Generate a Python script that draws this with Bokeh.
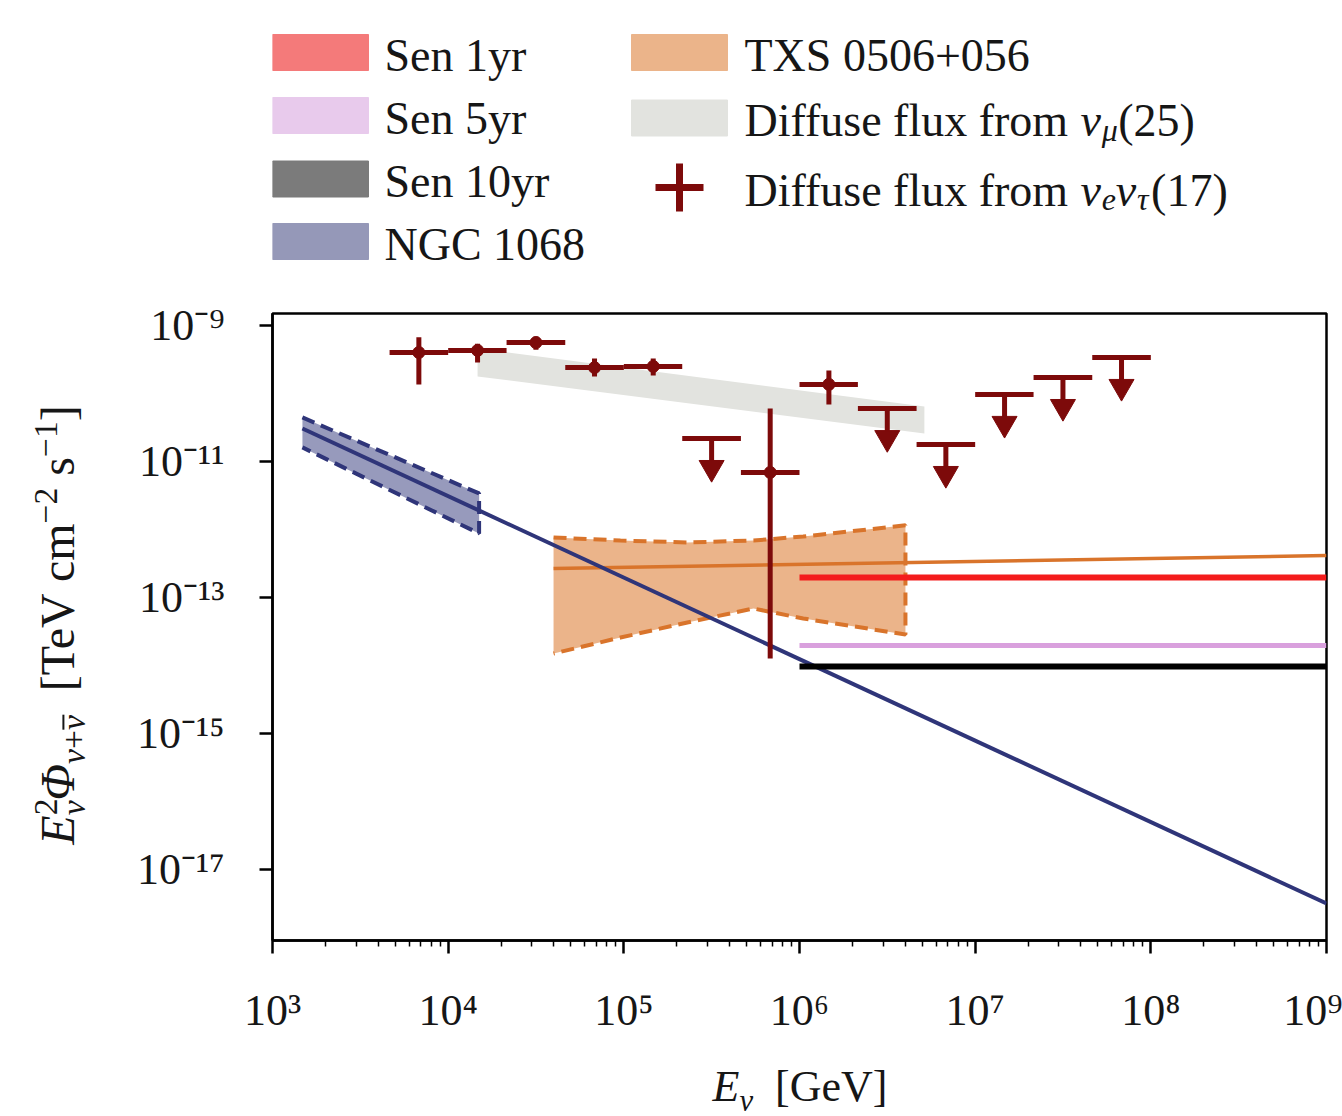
import math
from bokeh.plotting import figure
from bokeh.models import Range1d, FixedTicker, CustomJSTickFormatter, Div
from bokeh.layouts import column, row
from bokeh.embed import file_html
from bokeh.resources import INLINE
from bokeh.core.properties import value

# ---------------- data (GeV, TeV cm^-2 s^-1) ----------------
# diffuse flux from nu_e nu_tau (17): measured bins
cas_lo = [4.64e3, 1.00e4, 2.15e4, 4.64e4, 1.00e5, 4.64e5, 1.00e6]
cas_hi = [1.00e4, 2.15e4, 4.64e4, 1.00e5, 2.15e5, 1.00e6, 2.15e6]
cas_e = [6.81e3, 1.47e4, 3.16e4, 6.81e4, 1.47e5, 6.81e5, 1.47e6]
cas_f = [4.0e-10, 4.3e-10, 5.6e-10, 2.4e-10, 2.5e-10, 6.9e-12, 1.36e-10]
cas_flo = [1.36e-10, 2.86e-10, 4.4e-10, 1.78e-10, 1.84e-10, 1.27e-14, 6.9e-11]
cas_fhi = [6.7e-10, 5.4e-10, 6.9e-10, 3.27e-10, 3.27e-10, 6.0e-11, 2.18e-10]
# upper limits
ul_lo = [2.15e5, 2.15e6, 4.64e6, 1.00e7, 2.15e7, 4.64e7]
ul_hi = [4.64e5, 4.64e6, 1.00e7, 2.15e7, 4.64e7, 1.00e8]
ul_e = [3.16e5, 3.16e6, 6.81e6, 1.47e7, 3.16e7, 6.81e7]
ul_f = [2.18e-11, 6.0e-11, 1.78e-11, 9.7e-11, 1.72e-10, 3.39e-10]

# diffuse flux from nu_mu (25) band
numu_e = [1.47e4, 5.14e6]
numu_hi = [4.59e-10, 6.44e-11]
numu_lo = [1.78e-10, 2.58e-11]

# TXS 0506+056
txs_e = [3.98e4, 9.57e4, 2.30e5, 5.47e5, 1.05e6, 4.01e6]
txs_hi = [7.62e-13, 6.89e-13, 6.44e-13, 6.89e-13, 7.89e-13, 1.15e-12]
txs_lo = [1.50e-14, 2.58e-14, 4.29e-14, 6.89e-14, 4.91e-14, 2.86e-14]
txs_fit_e = [3.98e4, 1.0e9]
txs_fit_f = [2.67e-13, 4.15e-13]

# NGC 1068
ngc_e = [1.48e3, 1.5e4]
ngc_hi = [4.44e-11, 3.39e-12]
ngc_lo = [1.61e-11, 8.73e-13]
ngc_fit_e = [1.48e3, 1.0e9]
ngc_fit_f = [3.05e-11, 3.16e-18]

# sensitivities
sen_e = [1.0e6, 1.0e9]
sen1_f = [1.97e-13, 1.97e-13]
sen5_f = [1.97e-14, 1.97e-14]
sen10_f = [9.7e-15, 9.7e-15]

x_major = [1e3, 1e4, 1e5, 1e6, 1e7, 1e8, 1e9]
y_major = [1e-9, 1e-11, 1e-13, 1e-15, 1e-17]

# ---------------- style ----------------
FONT = "Liberation Serif"
TXT = "#161616"
RED = "#7d0a0a"
NAVY = "#2f3579"
ORANGE = "#d9742b"
TXS_FILL = "#ebb48a"
GREY = "#e2e3df"
SEN1 = "#f41c1c"
SEN5 = "#d9a0dd"
FS = 44      # tick labels / x title
LFS = 46     # legend
LSS = 32     # legend subscripts

EM = {' ': 250, '(': 333, ')': 333, '+': 564, '\u2212': 564, '[': 333, ']': 333,
      'C': 667, 'D': 722, 'E': 611, 'G': 722, 'N': 722, 'S': 556, 'T': 611, 'V': 722, 'X': 722,
      'a': 444, 'c': 444, 'e': 444, 'f': 333, 'i': 278, 'l': 278, 'm': 778, 'n': 500, 'o': 500,
      'r': 333, 's': 389, 'u': 500, 'x': 500, 'y': 500,
      '\u03bd': 460, '\u03bc': 520, '\u03c4': 440, '\u03a6': 760}


def tw(s, size):
    return sum(EM.get(c, 500) for c in s) * size / 1000.0


def adv(piece):
    t, sz, sh, st, a = piece
    return tw(t, sz) if a is None else a


# page geometry (px)
YDIV_W = 100
TOTAL_W = 1342
LEG_H = 286
MAIN_H = 764
XDIV_H = 64
COL_W = TOTAL_W - YDIV_W
BORDER_L = 272 - YDIV_W
BORDER_R = 16

# ---------------- main figure ----------------
p = figure(width=COL_W, height=MAIN_H, x_axis_type="log", y_axis_type="log",
           x_range=Range1d(1e3, 1e9), y_range=Range1d(9.04e-19, 1.5e-9),
           output_backend="svg", toolbar_location=None,
           min_border_left=BORDER_L, min_border_right=BORDER_R,
           min_border_top=27, min_border_bottom=110)
p.grid.visible = False
p.outline_line_color = "black"
p.outline_line_width = 2.5
p.background_fill_color = "white"
p.border_fill_color = "white"

fmt = CustomJSTickFormatter(code="""
const sup = {"-":"\u207b","0":"\u2070","1":"\u00b9","2":"\u00b2","3":"\u00b3","4":"\u2074",
             "5":"\u2075","6":"\u2076","7":"\u2077","8":"\u2078","9":"\u2079"};
const e = Math.round(Math.log10(tick));
return "10" + String(e).split("").map(c => sup[c]).join("");
""")

x_minor = [k * 10 ** n for n in range(3, 9) for k in range(2, 10)]
p.xaxis.ticker = FixedTicker(ticks=x_major, minor_ticks=x_minor)
p.yaxis.ticker = FixedTicker(ticks=y_major, minor_ticks=[])
for ax in (p.xaxis[0], p.yaxis[0]):
    ax.formatter = fmt
    ax.axis_line_color = "black"
    ax.axis_line_width = 2.5
    ax.major_tick_line_color = "black"
    ax.major_tick_line_width = 2.5
    ax.minor_tick_line_color = "black"
    ax.minor_tick_line_width = 1.5
    ax.major_tick_in = 0
    ax.major_tick_out = 13
    ax.minor_tick_in = 0
    ax.minor_tick_out = 6
    ax.major_label_text_font = FONT
    ax.major_label_text_font_size = f"{FS}px"
    ax.major_label_text_color = TXT
p.xaxis.major_label_standoff = 32
p.yaxis.major_label_standoff = 35
p.yaxis.minor_tick_line_color = None

# diffuse nu_mu band
p.varea(x=numu_e, y1=numu_lo, y2=numu_hi, fill_color=GREY)

# TXS band
p.varea(x=txs_e, y1=txs_lo, y2=txs_hi, fill_color=TXS_FILL)
# NGC band
p.varea(x=ngc_e, y1=ngc_lo, y2=ngc_hi, fill_color=NAVY, fill_alpha=0.5)

# TXS outline + fit
p.line(x=txs_e + txs_e[::-1], y=txs_hi + txs_lo[::-1], line_color=ORANGE,
       line_width=4, line_dash="13 7")
p.line(x=txs_fit_e, y=txs_fit_f, line_color=ORANGE, line_width=3.5)

# NGC outline + fit
p.line(x=ngc_e + ngc_e[::-1], y=ngc_hi + ngc_lo[::-1], line_color=NAVY,
       line_width=4, line_dash="13 7")
p.line(x=ngc_fit_e, y=ngc_fit_f, line_color=NAVY, line_width=4)

# sensitivities
p.line(x=sen_e, y=sen10_f, line_color="black", line_width=6)
p.line(x=sen_e, y=sen5_f, line_color=SEN5, line_width=5)
p.line(x=sen_e, y=sen1_f, line_color=SEN1, line_width=6)

# diffuse nu_e nu_tau data
p.segment(x0=cas_lo, y0=cas_f, x1=cas_hi, y1=cas_f, line_color=RED, line_width=5)
p.segment(x0=cas_e, y0=cas_flo, x1=cas_e, y1=cas_fhi, line_color=RED, line_width=5)
p.scatter(x=cas_e, y=cas_f, size=12, marker="circle", fill_color=RED, line_color=RED)

# upper limits
ARROW_STEM = 10 ** -0.36
ARROW_HEAD = 10 ** -0.43
ul_stem = [f * ARROW_STEM for f in ul_f]
ul_head = [f * ARROW_HEAD for f in ul_f]
p.segment(x0=ul_lo, y0=ul_f, x1=ul_hi, y1=ul_f, line_color=RED, line_width=5)
p.segment(x0=ul_e, y0=ul_f, x1=ul_e, y1=ul_stem, line_color=RED, line_width=5)
p.scatter(x=ul_e, y=ul_head, size=25, marker="inverted_triangle",
          fill_color=RED, line_color=RED)

# ---------------- axis titles (HTML text) ----------------
S = "font-size:0.7em;"
YCSS = (f"font-family:'{FONT}';font-size:48px;color:{TXT};"
        "white-space:nowrap;line-height:1;")
XCSS = (f"font-family:'{FONT}';font-size:{FS}px;color:{TXT};"
        "white-space:nowrap;line-height:1;")
NUBAR = ("<i style='display:inline-block;border-top:2px solid #161616;"
         "line-height:0.55;padding-top:1px;'>\u03bd</i>")
TOTAL_H = LEG_H + MAIN_H + XDIV_H
ylab_html = (
    f"<div style='position:relative;width:{YDIV_W}px;height:{TOTAL_H}px;'>"
    f"<div style=\"position:absolute;left:60px;top:625px;"
    f"transform:translate(-50%,-50%) rotate(-90deg);{YCSS}\">"
    f"<i>E</i><sup style='{S}'>2</sup><sub style='{S}margin-left:-0.5em'><i>\u03bd</i></sub>"
    f"<i>\u03a6</i><sub style='{S}'><i>\u03bd</i>+{NUBAR}</sub>"
    f"&nbsp;&nbsp;[TeV cm<sup style='{S}'>\u22122</sup> s<sup style='{S}'>\u22121</sup>]"
    "</div></div>")
ydiv = Div(text=ylab_html, width=YDIV_W, height=TOTAL_H, margin=0)

xlab_html = (
    f"<div style='position:relative;width:{COL_W}px;height:{XDIV_H}px;'>"
    f"<div style=\"position:absolute;left:{800 - YDIV_W}px;top:15px;"
    f"transform:translateX(-50%);{XCSS}\">"
    f"<i>E</i><sub style='{S}'><i>\u03bd</i></sub>&nbsp;&nbsp;[GeV]"
    "</div></div>")
xdiv = Div(text=xlab_html, width=COL_W, height=XDIV_H, margin=0)

# ---------------- legend panel ----------------
lg = figure(width=COL_W, height=LEG_H, x_range=Range1d(272, 1326), y_range=Range1d(LEG_H, 0),
            output_backend="svg", toolbar_location=None,
            x_axis_location=None, y_axis_location=None,
            min_border_left=BORDER_L, min_border_right=BORDER_R,
            min_border_top=0, min_border_bottom=0)
lg.grid.visible = False
lg.outline_line_color = None
lg.background_fill_color = "white"
lg.border_fill_color = "white"

DN = -9
BASE_OFF = 2.5   # baseline offset from swatch centre (px, downward)


def legend_text(x0, yb, pieces):
    x = x0
    for pc in pieces:
        t, sz, sh, st, a = pc
        lg.text(x=[x], y=[yb - sh], text=[t], text_font=value(FONT),
                text_font_size=value(f"{sz}px"), text_font_style=value(st),
                text_color=TXT, text_align="left", text_baseline="alphabetic")
        x += adv(pc)


legend_entries = [
    ("Sen 1yr", "#f47a7a", 0, 52),
    ("Sen 5yr", "#e8caec", 0, 115),
    ("Sen 10yr", "#7b7b7b", 0, 178.5),
    ("NGC 1068", "#9598b8", 0, 241),
    ("TXS 0506+056", TXS_FILL, 1, 52),
    ("numu", GREY, 1, 117.5),
]
COLX = [(272, 368, 384), (631, 727, 744)]
for name, col, c, yc in legend_entries:
    x0, x1, xt = COLX[c]
    lg.quad(left=[x0], right=[x1], top=[yc - 18], bottom=[yc + 18], fill_color=col,
            line_color=col)
    if name == "numu":
        legend_text(xt, yc + BASE_OFF, [("Diffuse flux from ", LFS, 0, "normal", None),
                                        ("\u03bd", LFS, 0, "italic", None),
                                        ("\u03bc", LSS, DN, "italic", None),
                                        ("(25)", LFS, 0, "normal", None)])
    else:
        legend_text(xt, yc + BASE_OFF, [(name, LFS, 0, "normal", None)])

# cross marker entry
yc = 187
lg.segment(x0=[655], y0=[yc], x1=[703], y1=[yc], line_color=RED, line_width=7)
lg.segment(x0=[679], y0=[yc - 24], x1=[679], y1=[yc + 24], line_color=RED, line_width=7)
legend_text(744, yc + BASE_OFF, [("Diffuse flux from ", LFS, 0, "normal", None),
                                 ("\u03bd", LFS, 0, "italic", None),
                                 ("e", LSS, DN, "italic", None),
                                 ("\u03bd", LFS, 0, "italic", None),
                                 ("\u03c4", LSS, DN, "italic", None),
                                 ("(17)", LFS, 0, "normal", None)])

layout = row(ydiv, column(lg, p, xdiv, spacing=0), spacing=0)
open("out.html", "w").write(file_html(layout, INLINE))
